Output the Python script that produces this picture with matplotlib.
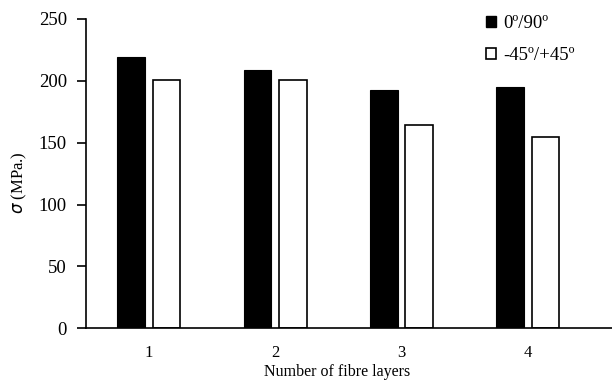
import numpy as np
import matplotlib.pyplot as plt
from matplotlib.patches import Patch

# Tensile strength by number of fibre layers
layers = ["1", "2", "3", "4"]
strength_0_90 = [219, 209, 193, 195]
strength_45 = [201, 201, 164, 155]
series_labels = ["0º/90º", "-45º/+45º"]

plt.rcParams['font.family'] = ['Liberation Serif', 'DejaVu Serif']

fig = plt.figure(figsize=(6.12, 3.83), dpi=100)
ax = fig.add_axes([85.7 / 612, 1 - 328.3 / 383, 1 - 85.7 / 612, 309.3 / 383])

x = np.arange(1, len(layers) + 1)
width = 0.22
offset = 0.14

ax.bar(x - offset, strength_0_90, width, color='black', edgecolor='black', linewidth=0.8)
ax.bar(x + offset, strength_45, width, color='white', edgecolor='black', linewidth=1.2)

ax.set_ylim(0, 250)
ax.set_yticks([0, 50, 100, 150, 200, 250])
ax.set_xticks(x)
ax.set_xticklabels(layers)
# plot area runs past the last group to the right edge
ax.set_xlim(0.5, 0.5 + (612 - 85.7) / 126.3)

for side in ['top', 'right']:
    ax.spines[side].set_visible(False)
for side in ['left', 'bottom']:
    ax.spines[side].set_linewidth(1.2)

ax.tick_params(axis='y', direction='out', length=6.5, width=1.2, pad=7, labelsize=13.5)
ax.tick_params(axis='x', length=0, pad=12, labelsize=12)

ax.set_xlabel("Number of fibre layers", fontsize=11.5)
ax.xaxis.set_label_coords((337 - 85.7) / (612 - 85.7), -0.115)
ax.set_ylabel(r"$\sigma$ (MPa.)", fontsize=12)
ax.yaxis.set_label_coords(-(85.7 - 29) / (612 - 85.7), 0.47)

handles = [Patch(facecolor='black', edgecolor='black'),
           Patch(facecolor='white', edgecolor='black', linewidth=1.2)]
fig.legend(handles, series_labels, loc='upper left',
           bbox_to_anchor=(486 / 612, 1 - 15 / 383), frameon=False,
           fontsize=13.5, handlelength=0.55, handleheight=0.55,
           handletextpad=0.35, labelspacing=0.8, borderpad=0, borderaxespad=0)

fig.savefig("out.png", dpi=100)
